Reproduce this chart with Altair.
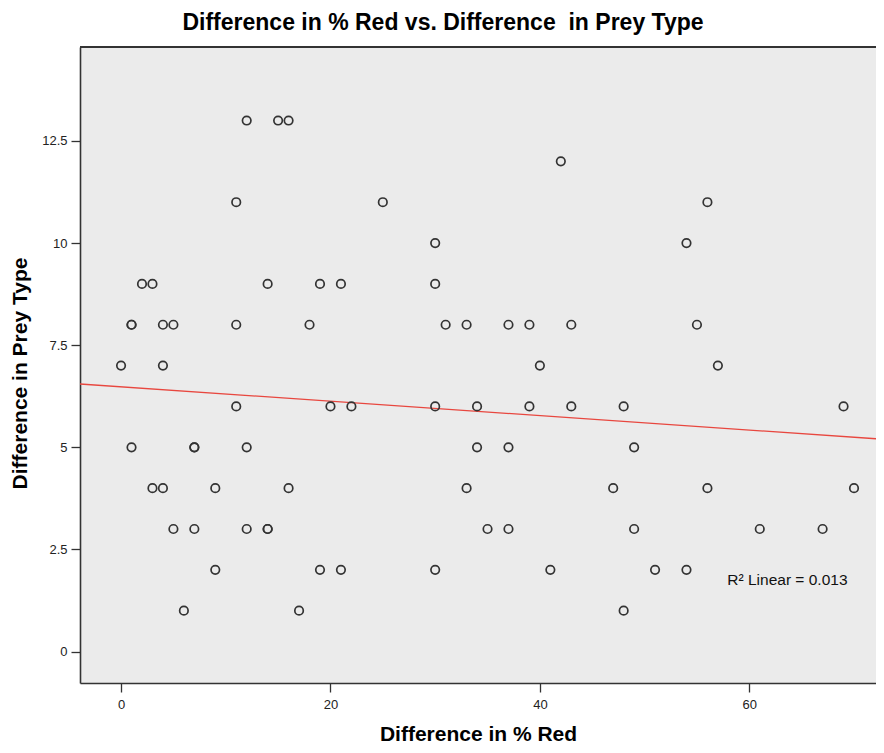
import altair as alt
import pandas as pd

# ---- data ----
diff_red = [0, 1, 1, 1, 2, 3, 3, 4, 4, 4, 5, 5, 6, 7, 7, 7, 9, 9, 11, 11, 11, 12, 12, 12,
            14, 14, 14, 15, 16, 16, 17, 18, 19, 19, 20, 21, 21, 22, 25, 30, 30, 30, 30, 31,
            33, 33, 34, 34, 35, 37, 37, 37, 39, 39, 40, 41, 42, 43, 43, 47, 48, 48, 49, 49,
            51, 54, 54, 55, 56, 56, 57, 61, 67, 69, 70]
diff_prey = [7, 8, 8, 5, 9, 9, 4, 8, 7, 4, 8, 3, 1, 5, 5, 3, 4, 2, 11, 8, 6, 13, 5, 3,
             9, 3, 3, 13, 13, 4, 1, 8, 9, 2, 6, 9, 2, 6, 11, 10, 9, 6, 2, 8,
             8, 4, 6, 5, 3, 8, 5, 3, 8, 6, 7, 2, 12, 8, 6, 4, 6, 1, 5, 3,
             2, 10, 2, 8, 11, 4, 7, 3, 3, 6, 4]

fit_x = [-3.92, 72.1]
fit_y = [6.55, 5.21]

ann_x = [57.9]
ann_y = [1.75]
ann_text = ["R\u00b2 Linear = 0.013"]

x_ticks = [0, 20, 40, 60]
y_ticks = [0, 2.5, 5, 7.5, 10, 12.5]

X_DOMAIN = [-3.92, 72.1]
Y_DOMAIN = [-0.77, 14.8]
W, H = 796, 636
FONT = "Liberation Sans"

pts = pd.DataFrame({"x": diff_red, "y": diff_prey})
fit = pd.DataFrame({"x": fit_x, "y": fit_y})
ann = pd.DataFrame({"x": ann_x, "y": ann_y, "t": ann_text})

xs = alt.Scale(domain=X_DOMAIN, nice=False, zero=False)
ys = alt.Scale(domain=Y_DOMAIN, nice=False, zero=False)

x_axis = alt.Axis(values=x_ticks, title="Difference in % Red", grid=False,
                  domainColor="#333333", domainWidth=1.6, tickColor="#333333",
                  tickWidth=1.3, tickSize=9, labelPadding=6, labelFont=FONT,
                  labelFontSize=13, labelColor="#222222", titleFont=FONT,
                  titleFontSize=21, titleFontWeight="bold", titleColor="#000000",
                  titleY=57, titleBaseline="alphabetic")
y_axis = alt.Axis(values=y_ticks, title="Difference in Prey Type", grid=False,
                  format=".1~f",
                  domainColor="#333333", domainWidth=1.6, tickColor="#333333",
                  tickWidth=1.3, tickSize=9, labelPadding=4, labelFont=FONT,
                  labelFontSize=13, labelColor="#222222", titleFont=FONT,
                  titleFontSize=21, titleFontWeight="bold", titleColor="#000000",
                  titleX=-54, titleY=326, titleBaseline="alphabetic")

points = alt.Chart(pts).mark_point(shape="circle", filled=False, size=72,
                                   strokeWidth=1.7, color="#333333", opacity=1).encode(
    x=alt.X("x:Q", scale=xs, axis=x_axis),
    y=alt.Y("y:Q", scale=ys, axis=y_axis),
)

line = alt.Chart(fit).mark_line(color="#E8473F", strokeWidth=1.3, clip=True).encode(
    x=alt.X("x:Q", scale=xs),
    y=alt.Y("y:Q", scale=ys),
)

label = alt.Chart(ann).mark_text(align="left", baseline="middle", font=FONT,
                                 fontSize=15.5, color="#111111").encode(
    x=alt.X("x:Q", scale=xs),
    y=alt.Y("y:Q", scale=ys),
    text="t:N",
)

top_border = alt.Chart(ann).mark_rule(color="#333333", strokeWidth=2).encode(
    x=alt.value(0), x2=alt.value(W), y=alt.value(0)
)

chart = alt.layer(line, points, label, top_border).properties(
    width=W, height=H,
    title=alt.TitleParams("Difference in % Red vs. Difference\u00a0 in Prey Type",
                          font=FONT, fontSize=23, fontWeight="bold", color="#000000",
                          anchor="middle", dx=-35, offset=11),
    autosize=alt.AutoSizeParams(type="none"),
    padding={"left": 72, "top": 39, "right": 0, "bottom": 62},
    background="#FFFFFF",
).configure_view(fill="#EBEBEB", strokeWidth=0)

chart.save("out.html", embed_options={"renderer": "svg", "actions": False})
